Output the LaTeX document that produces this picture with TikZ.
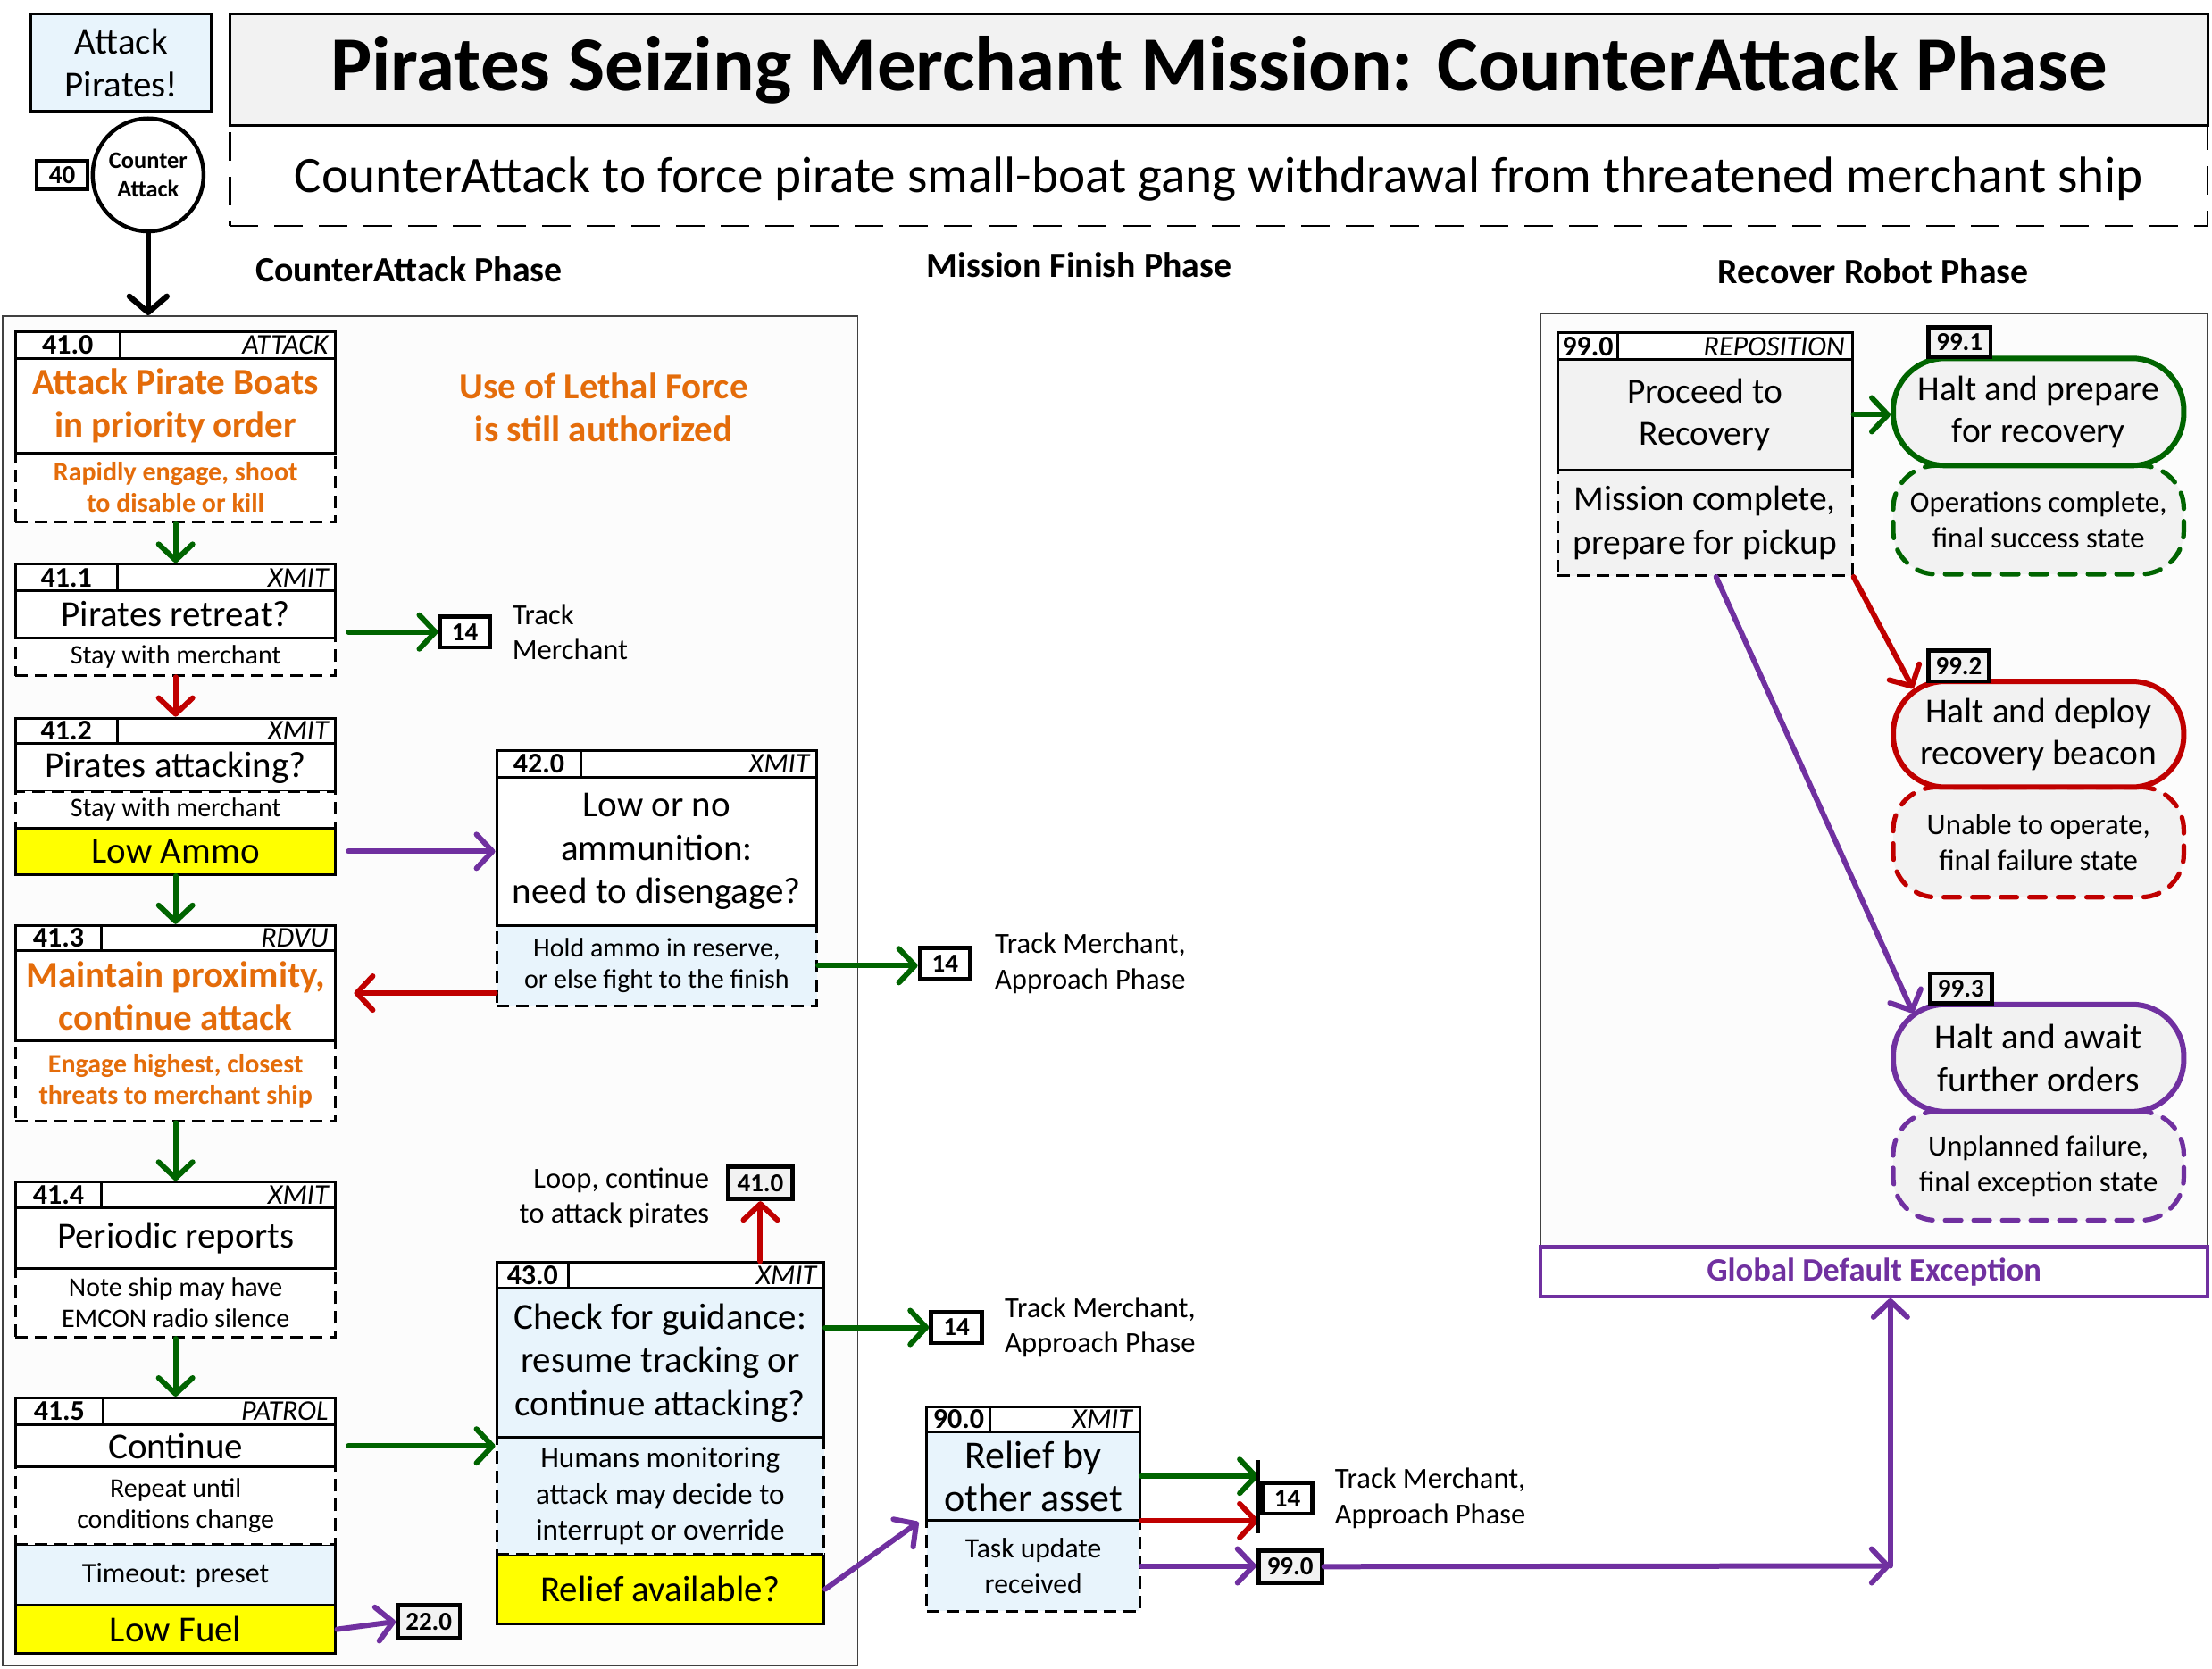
\documentclass[tikz,border=0pt]{standalone}
\usepackage{fontspec}
\setmainfont{Carlito}
\usetikzlibrary{arrows.meta,shapes.geometric,calc}
\definecolor{cgreen}{RGB}{0,100,0}
\definecolor{cred}{RGB}{192,0,0}
\definecolor{cpurple}{RGB}{112,48,160}
\definecolor{corange}{RGB}{228,108,10}
\definecolor{lblue}{RGB}{232,244,252}
\definecolor{lgray}{RGB}{242,242,242}
\definecolor{cyellow}{RGB}{255,255,0}
\definecolor{cbg}{RGB}{252,252,252}
\newcommand\fs[2]{\fontsize{#1pt}{#2pt}\selectfont}
\newcommand\mainf{\fs{20.5}{23.9}}
\newcommand\subf{\fs{15}{17.4}}
\newcommand\hdrb{\bfseries\fs{16}{17}}
\newcommand\hdri{\itshape\fs{16}{17}}
\newcommand\bx[7]{\node[#6,minimum width={(#4-#2)*0.79pt},minimum height={(#5-#3)*0.79pt}] (#1) at ({(#2+#4)/2},{(#3+#5)/2}) {#7};}
\newcommand\hdr[8]{%
 \bx{#1n}{#2}{#5}{#3}{#6}{hdrbox,font=\hdrb}{#7}
 \bx{#1t}{#3}{#5}{#4}{#6}{hdrbox}{}
 \node[anchor=east,inner sep=0pt,font=\hdri] (#1l) at ($(#1t.east)+(-6,0)$) {#8};}
\begin{document}
\begin{tikzpicture}[x=0.79pt,y=-0.79pt,
 box/.style={draw=black,line width=1.5pt,inner sep=1pt,align=center,fill=white},
 dbox/.style={box,dash pattern=on 7pt off 4pt},
 hdrbox/.style={draw=black,line width=1.5pt,fill=white,inner sep=0pt},
 refbox/.style={draw=black,line width=2.4pt,fill=white,inner sep=0pt,font=\bfseries\fs{14.5}{16}},
 stad/.style={draw,line width=3pt,fill=lgray,rounded corners=29pt,align=center,inner sep=1pt},
 dstad/.style={draw,line width=2.6pt,dash pattern=on 9pt off 7pt,line cap=round,fill=lgray,rounded corners=24pt,align=center,inner sep=1pt},
 omain/.style={text=corange,font=\bfseries\mainf},
 osub/.style={text=corange,font=\bfseries\subf},
 lab/.style={inner sep=0pt,align=left,font=\fs{16.3}{19.75}},
 arr/.style={line width=3pt,line cap=round,-{Straight Barb[length=9pt,width=19pt,round]}},
 garr/.style={arr,draw=cgreen},
 rarr/.style={arr,draw=cred},
 parr/.style={arr,draw=cpurple},
 karr/.style={line width=3.2pt,line cap=round,draw=black,-{Straight Barb[length=9pt,width=21pt,round]}}]
\useasboundingbox (0,0) rectangle (1568,1183);
% containers
\bx{leftc}{2}{224}{608}{1181}{draw=black!75,line width=0.8pt,fill=cbg}{}
\bx{rightc}{1092}{222}{1565}{884}{draw=black!75,line width=0.8pt,fill=cbg}{}
\bx{gde}{1092}{884}{1565}{919}{draw=cpurple,line width=2.2pt,fill=white,text=cpurple,font=\bfseries\fs{18.3}{22}}{Global Default Exception}
% top
\bx{ap}{22}{10}{150}{79}{box,fill=lblue,font=\mainf}{Attack\\Pirates!}
\bx{subt}{163}{89}{1565}{160}{draw,line width=1.2pt,dash pattern=on 16pt off 9pt}{}
\node[font=\fs{28.6}{34}] (subtxt) at (864,127) {CounterAttack to force pirate small-boat gang withdrawal from threatened merchant ship};
\bx{title}{163}{10}{1565}{89}{box,fill=lgray,font=\bfseries\fs{43.5}{50}}{Pirates Seizing Merchant Mission: CounterAttack Phase}
\node[draw,ellipse,line width=2.2pt,minimum width={76*0.79pt},minimum height={80*0.79pt},inner sep=0pt,align=center,fill=white,font=\bfseries\fs{13.2}{15.8}] (ca) at (105,124) {Counter\\Attack};
\bx{r40}{26}{114}{62}{134}{refbox}{40}
\node[font=\bfseries\fs{19.9}{24}] (ph1) at (290,191) {CounterAttack Phase};
\node[font=\bfseries\fs{19.9}{24}] (ph2) at (765,188) {Mission Finish Phase};
\node[font=\bfseries\fs{19.9}{24}] (ph3) at (1328,192) {Recover Robot Phase};
% 41.0
\hdr{h410}{11}{85}{238}{235}{254}{41.0}{ATTACK}
\bx{s410}{11}{321}{238}{370}{dbox,osub}{Rapidly engage, shoot\\to disable or kill}
\bx{m410}{11}{254}{238}{321}{box,omain}{Attack Pirate Boats\\in priority order}
% 41.1
\hdr{h411}{11}{83}{238}{400}{419}{41.1}{XMIT}
\bx{s411}{11}{452}{238}{479}{dbox,font=\subf}{Stay with merchant}
\bx{m411}{11}{419}{238}{452}{box,font=\mainf}{Pirates retreat?}
% 41.2
\hdr{h412}{11}{83}{238}{509}{527}{41.2}{XMIT}
\bx{m412}{11}{527}{238}{561}{box,font=\mainf}{Pirates attacking?}
\bx{s412}{11}{561}{238}{587}{dbox,font=\subf}{Stay with merchant}
\bx{y412}{11}{587}{238}{620}{box,fill=cyellow,font=\mainf}{Low Ammo}
% 41.3
\hdr{h413}{11}{72}{238}{656}{674}{41.3}{RDVU}
\bx{s413}{11}{738}{238}{795}{dbox,osub}{Engage highest, closest\\threats to merchant ship}
\bx{m413}{11}{674}{238}{738}{box,omain}{Maintain proximity,\\continue attack}
% 41.4
\hdr{h414}{11}{72}{238}{838}{856}{41.4}{XMIT}
\bx{s414}{11}{899}{238}{948}{dbox,font=\subf}{Note ship may have\\EMCON radio silence}
\bx{m414}{11}{856}{238}{899}{box,font=\mainf}{Periodic reports}
% 41.5
\hdr{h415}{11}{73}{238}{991}{1010}{41.5}{PATROL}
\bx{t415}{11}{1095}{238}{1138}{box,fill=lblue,font=\fs{16}{18}}{Timeout: preset}
\bx{s415}{11}{1040}{238}{1095}{dbox,font=\subf}{Repeat until\\conditions change}
\bx{m415}{11}{1010}{238}{1040}{box,font=\mainf}{Continue}
\bx{y415}{11}{1138}{238}{1172}{box,fill=cyellow,font=\mainf}{Low Fuel}
% 42.0
\hdr{h420}{352}{412}{579}{532}{551}{42.0}{XMIT}
\bx{s420}{352}{656}{579}{713}{dbox,fill=lblue,font=\subf}{Hold ammo in reserve,\\or else fight to the finish}
\bx{m420}{352}{551}{579}{656}{box,font=\fs{20.5}{24.5}}{\rule{0pt}{8pt}Low or no\\ammunition:\\need to disengage?}
% 43.0
\hdr{h430}{352}{403}{584}{895}{913}{43.0}{XMIT}
\bx{y430}{352}{1102}{584}{1151}{box,fill=cyellow,font=\mainf}{Relief available?}
\bx{s430}{352}{1019}{584}{1102}{dbox,fill=lblue,font=\fs{16.6}{20.1}}{Humans monitoring\\attack may decide to\\interrupt or override}
\bx{m430}{352}{913}{584}{1019}{box,fill=lblue,font=\fs{20.5}{24.3}}{Check for guidance:\\resume tracking or\\continue attacking?}
% 90.0
\hdr{h900}{657}{702}{808}{997}{1015}{90.0}{XMIT}
\bx{s900}{657}{1078}{808}{1142}{dbox,fill=lblue,font=\fs{15.8}{19.75}}{Task update\\received}
\bx{m900}{657}{1015}{808}{1078}{box,fill=lblue,font=\fs{22}{23.7}}{Relief by\\other asset}
% 99.0
\hdr{h990}{1104}{1147}{1313}{236}{255}{99.0}{REPOSITION}
\bx{s990}{1104}{333}{1313}{408}{dbox,fill=lgray,font=\fs{19.75}{24.5}}{Mission complete,\\prepare for pickup}
\bx{m990}{1104}{255}{1313}{333}{box,fill=lgray,font=\fs{19.75}{23.7}}{Proceed to\\Recovery}
% end states
\bx{d991}{1342}{330}{1548}{407}{dstad,draw=cgreen,font=\fs{16.4}{19.75}}{Operations complete,\\final success state}
\bx{st991}{1342}{254}{1548}{330}{stad,draw=cgreen,font=\fs{19.75}{23.7}}{Halt and prepare\\for recovery}
\bx{r991}{1367}{232}{1411}{253}{refbox,fill=lgray}{99.1}
\bx{d992}{1342}{558}{1548}{636}{dstad,draw=cred,font=\fs{16.4}{19.75}}{Unable to operate,\\final failure state}
\bx{st992}{1342}{483}{1548}{558}{stad,draw=cred,font=\fs{19.75}{23.7}}{Halt and deploy\\recovery beacon}
\bx{r992}{1367}{461}{1410}{483}{refbox,fill=lgray}{99.2}
\bx{d993}{1342}{788}{1548}{865}{dstad,draw=cpurple,font=\fs{16.4}{19.75}}{Unplanned failure,\\final exception state}
\bx{st993}{1342}{712}{1548}{788}{stad,draw=cpurple,font=\fs{19.75}{23.7}}{Halt and await\\further orders}
\bx{r993}{1368}{690}{1412}{711}{refbox,fill=lgray}{99.3}
% references
\bx{r14a}{312}{437}{347}{459}{refbox}{14}
\bx{r14b}{652}{672}{688}{694}{refbox}{14}
\bx{r410}{516}{827}{562}{850}{refbox,fill=lgray}{41.0}
\bx{r14c}{660}{930}{696}{952}{refbox}{14}
\bx{r22}{282}{1138}{326}{1161}{refbox,fill=lgray}{22.0}
\bx{r14d}{895}{1051}{930}{1073}{refbox}{14}
\bx{r990}{892}{1099}{937}{1122}{refbox,fill=lgray}{99.0}
\coordinate (barT) at (892,1035);
\coordinate (barB) at (892,1087);
\coordinate (corner) at (1340,1110);
% labels
\node[lab,anchor=west] (t14a) at (363,448) {Track\\Merchant};
\node[lab,anchor=west] (t14b) at (705,683) {Track Merchant,\\Approach Phase};
\node[lab,anchor=west] (t14c) at (712,941) {Track Merchant,\\Approach Phase};
\node[lab,anchor=west] (t14d) at (946,1062) {Track Merchant,\\Approach Phase};
\node[lab,anchor=east,align=right] (tloop) at (503,849) {Loop, continue\\to attack pirates};
\node[omain,align=center] (lethal) at (428,289) {Use of Lethal Force\\is still authorized};
% connectors
\draw[karr] (ca.south) -- (ca.south |- leftc.north);
\draw[garr] (s410.south) -- (s410.south |- h411t.north);
\draw[garr] ($(m411.east |- r14a.west)+(8,0)$) -- (r14a.west);
\draw[rarr] (s411.south) -- (s411.south |- h412t.north);
\draw[parr] ($(y412.east)+(8,0)$) -- (m420.west |- y412.east);
\draw[garr] (y412.south) -- (y412.south |- h413t.north);
\draw[rarr] ($(s420.south west)+(0,-10)$) -- ($(m413.east |- s420.south west)+(12,-10)$);
\draw[garr] (s413.south) -- (s413.south |- h414t.north);
\draw[garr] (s414.south) -- (s414.south |- h415t.north);
\draw[parr] (y415.east) -- (r22.west);
\draw[garr] ($(m415.east)+(8,0)$) -- (s430.west |- m415.east);
\draw[garr] (s420.east) -- (r14b.west |- s420.east);
\draw[rarr] (r410.south |- h430t.north) -- (r410.south);
\draw[garr] (m430.east |- r14c.west) -- (r14c.west);
\draw[parr] (y430.east) -- ($(m900.south west)+(-5,0)$);
\draw[garr] (m900.east) -- (m900.east -| barT);
\draw[rarr] ($(m900.south east)+(0,-1)$) -- ($(m900.south east -| barT)+(0,-1)$);
\draw[line width=2.2pt] (barT) -- (barB);
\draw[parr] (s900.east) -- (s900.east -| r990.west);
\draw[parr] (r990.east) -- (corner);
\draw[parr] (corner) -- (corner |- gde.south);
\draw[garr] (m990.east) -- (m990.east -| st991.west);
\draw[rarr] (s990.south east) -- ($(st992.north west)+(16,7)$);
\draw[parr] ($(s990.south)+(8,0)$) -- ($(st993.north west)+(16,8)$);
\end{tikzpicture}
\end{document}
